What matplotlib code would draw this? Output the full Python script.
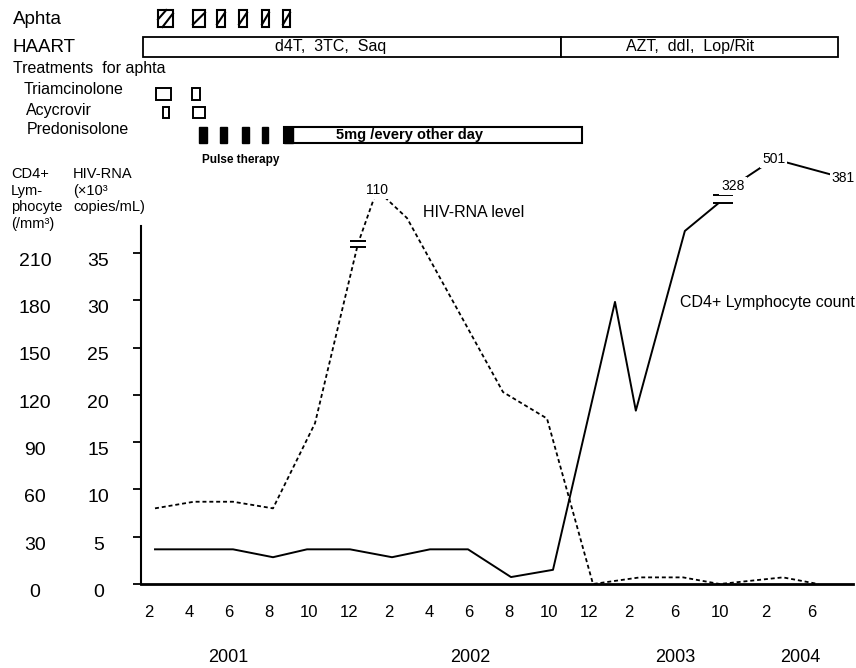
import matplotlib
matplotlib.use("Agg")
import numpy as np
import matplotlib.pyplot as plt
from matplotlib.patches import Rectangle
from matplotlib.path import Path
from matplotlib.transforms import offset_copy

plt.rcParams["font.family"] = ["Liberation Sans", "DejaVu Sans"]

# time axis: months counted from Jan 2001 (Feb 2001 = 2, Dec 2002 = 24, Feb 2004 = 38)
tick_months = [2, 4, 6, 8, 10, 12, 14, 16, 18, 20, 22, 24, 26, 30, 34, 38, 42]
tick_labels = ["2", "4", "6", "8", "10", "12", "2", "4", "6", "8", "10", "12",
               "2", "6", "10", "2", "6"]
year_months = [5.95, 18.05, 30.1, 41.0]
year_labels = ["2001", "2002", "2003", "2004"]

hiv_ticks = [0, 5, 10, 15, 20, 25, 30, 35]
cd4_ticks = [0, 30, 60, 90, 120, 150, 180, 210]

# CD4+ lymphocyte count (/mm3); the last three values sit above the axis break
cd4_months = [2.3, 4.25, 6.2, 8.2, 9.9, 12.05, 14.15, 16.05, 17.95, 20.1, 22.2,
              25.3, 26.6, 30.9, 34.25, 35.1, 38.7, 44.8]
cd4_count = [22, 22, 22, 17, 22, 22, 17, 22, 22, 4.4, 9,
             179, 110, 224, 244, 328, 501, 381]
cd4_break_at = 14       # index of the break mark
cd4_cut = 244

# HIV-RNA (x10^3 copies/mL); 110 is drawn above the break
hiv_months = [2.3, 4.25, 6.2, 8.2, 10.3, 12.45, 13.4, 14.9, 19.7, 21.9, 24.2,
              26.96, 30.74, 33.96, 39.5, 42.6]
hiv_rna = [8.0, 8.7, 8.7, 8.0, 17.0, 36.0, 110, 38.7, 20.3, 17.5, 0,
           0.7, 0.7, 0, 0.7, 0]
hiv_break_at = 5
hiv_peak_at = 6
hiv_cut = 40

# treatments / events (start month, end month)
aphta_spans = [(2.45, 3.2), (4.2, 4.8), (5.4, 5.8), (6.5, 6.9), (7.65, 8.0), (8.7, 9.05)]
haart_names = ["d4T,  3TC,  Saq", "AZT,  ddI,  Lop/Rit"]
haart_spans = [(1.7, 22.6), (22.6, 44.3)]
haart_text_at = [11.1, 31.35]
triam_spans = [(2.35, 3.1), (4.15, 4.55)]
acyc_spans = [(2.7, 3.0), (4.2, 4.8)]
pulse_spans = [(4.5, 4.9), (5.55, 5.9), (6.65, 7.0), (7.65, 7.95)]
pred_span = (8.75, 23.65)


def fwd(m):
    m = np.asarray(m, dtype=float)
    return np.where(m <= 26, m, 26 + (m - 26) * 0.57)


def inv(v):
    v = np.asarray(v, dtype=float)
    return np.where(v <= 26, v, 26 + (v - 26) / 0.57)


def squash(v, cut, k):
    v = np.asarray(v, dtype=float)
    return np.where(v <= cut, v, cut + (v - cut) * k)


W, H = 856, 668
fig = plt.figure(figsize=(W / 100, H / 100), dpi=100)
L, R, B, T = 141, 853, 584, 226
ax = fig.add_axes([L / W, 1 - B / H, (R - L) / W, (B - T) / H])
ax.set_xscale("function", functions=(fwd, inv))
ax.set_xlim(1.6, 45.65)
ax.set_ylim(0, 37.86)

for s in ["top", "right"]:
    ax.spines[s].set_visible(False)
ax.spines["left"].set_linewidth(1.5)
ax.spines["bottom"].set_linewidth(2.0)

ax.set_yticks(hiv_ticks)
ax.set_yticklabels([])
ax.tick_params(axis="y", direction="out", length=6, width=1.3)
ax.set_xticks(tick_months)
ax.set_xticklabels(tick_labels, fontsize=12)
ax.tick_params(axis="x", length=0, pad=15)
ax.minorticks_off()

ytr = offset_copy(ax.get_yaxis_transform(), fig=fig, x=0, y=-6, units="points")
for h, c in zip(hiv_ticks, cd4_ticks):
    ax.text(-0.06, h, str(h), transform=ytr, ha="center", va="center", fontsize=14)
    ax.text(-0.149, h, str(c), transform=ytr, ha="center", va="center", fontsize=14)

xtr = offset_copy(ax.get_xaxis_transform(), fig=fig, x=0, y=-53, units="points")
for m, lab in zip(year_months, year_labels):
    ax.text(m, 0, lab, transform=xtr, ha="center", va="center", fontsize=13)

# series
cd4_plot = squash(cd4_count, cd4_cut, 0.1) / 6.0
hiv_plot = squash(hiv_rna, hiv_cut, 0.024)
ax.plot(cd4_months, cd4_plot, color="black", lw=1.4, clip_on=False, zorder=3)
ax.plot(hiv_months, hiv_plot, color="black", lw=1.3, ls=(0, (2.2, 1.6)),
        clip_on=False, zorder=3)

# axis-break marks
gap = Path([(-1, 0.4), (1, 0.4), (1, -0.4), (-1, -0.4), (-1, 0.4)],
           [Path.MOVETO, Path.LINETO, Path.LINETO, Path.LINETO, Path.CLOSEPOLY])
brk = Path([(-1, 0.4), (1, 0.4), (-1, -0.4), (1, -0.4)],
           [Path.MOVETO, Path.LINETO, Path.MOVETO, Path.LINETO])
for x, y, ms in [(hiv_months[hiv_break_at], hiv_plot[hiv_break_at], 12),
                 (cd4_months[cd4_break_at], cd4_plot[cd4_break_at], 15)]:
    ax.plot([x], [y], marker=gap, ms=ms, mfc="white", mec="white", mew=0,
            ls="none", clip_on=False, zorder=4)
    ax.plot([x], [y], marker=brk, ms=ms, mec="black", mew=1.4,
            ls="none", clip_on=False, zorder=5)

wbox = dict(fc="white", ec="none", pad=1.5)
ax.text(hiv_months[hiv_peak_at], hiv_plot[hiv_peak_at], "110", ha="center",
        va="center", fontsize=10, bbox=wbox, zorder=6, clip_on=False)
for i in range(cd4_break_at + 1, len(cd4_count)):
    ax.text(cd4_months[i], cd4_plot[i], str(cd4_count[i]), ha="center",
            va="center", fontsize=10, bbox=wbox, zorder=6, clip_on=False)

ax.text(15.7, 39.3, "HIV-RNA level", ha="left", va="center", fontsize=11.5,
        clip_on=False)
ax.text(30.47, 29.8, "CD4+ Lymphocyte count", ha="left", va="center",
        fontsize=11.5, clip_on=False)

# treatment panel above the chart (y in pixels from the top of the figure)
top = fig.add_axes([L / W, 1 - T / H, (R - L) / W, T / H])
top.set_xscale("function", functions=(fwd, inv))
top.set_xlim(ax.get_xlim())
top.set_ylim(T, 0)
top.axis("off")


def box(x0, x1, y0, h, **kw):
    top.add_patch(Rectangle((x0, y0), x1 - x0, h, clip_on=False, **kw))


# aphta episodes: boxes with diagonal strokes
for i, (a, b) in enumerate(aphta_spans):
    y0, h = 10, 17
    box(a, b, y0, h, fc="white", ec="black", lw=1.5)
    w = b - a
    if i == 0:
        top.plot([a, a + w * 0.55], [y0 + h * 0.55, y0], color="black", lw=1.5)
        top.plot([a + w * 0.3, b], [y0 + h, y0 + h * 0.2], color="black", lw=1.5)
    else:
        top.plot([a, b], [y0 + h * 0.85, y0 + h * 0.15], color="black", lw=1.5)

for (a, b), name, tx in zip(haart_spans, haart_names, haart_text_at):
    box(a, b, 37, 20, fc="white", ec="black", lw=1.3)
    top.text(tx, 47, name, ha="center", va="center", fontsize=11.5)

for a, b in triam_spans:
    box(a, b, 88, 12, fc="white", ec="black", lw=1.4)
for a, b in acyc_spans:
    box(a, b, 107, 11, fc="white", ec="black", lw=1.4)
for a, b in pulse_spans:
    box(a, b, 127, 16, fc="black", ec="black", lw=1)
box(pred_span[0], pred_span[1], 127, 16, fc="white", ec="black", lw=1.5)
box(pred_span[0], 9.2, 127, 16, fc="black", ec="black", lw=1)
top.text(15.05, 135, "5mg /every other day", ha="center", va="center",
         fontsize=10.5, fontweight="bold")
top.text(6.6, 160, "Pulse therapy", ha="center", va="center", fontsize=8.5,
         fontweight="bold")


def ftext(x, y, s, **kw):
    fig.text(x / W, 1 - y / H, s, va="center", **kw)


ftext(13, 20, "Aphta", fontsize=13.5)
ftext(13, 47, "HAART", fontsize=13.5)
ftext(13, 69, "Treatments  for aphta", fontsize=11.5)
ftext(24, 90, "Triamcinolone", fontsize=11.5)
ftext(26, 110, "Acycrovir", fontsize=11.5)
ftext(27, 130, "Predonisolone", fontsize=11.5)

fig.text(11 / W, 1 - 167 / H, "CD4+\nLym-\nphocyte\n(/mm³)", va="top",
         fontsize=10.5, linespacing=1.25)
fig.text(73 / W, 1 - 167 / H, "HIV-RNA\n(×10³\ncopies/mL)", va="top",
         fontsize=10.5, linespacing=1.25)

fig.savefig("out.png", dpi=100)
